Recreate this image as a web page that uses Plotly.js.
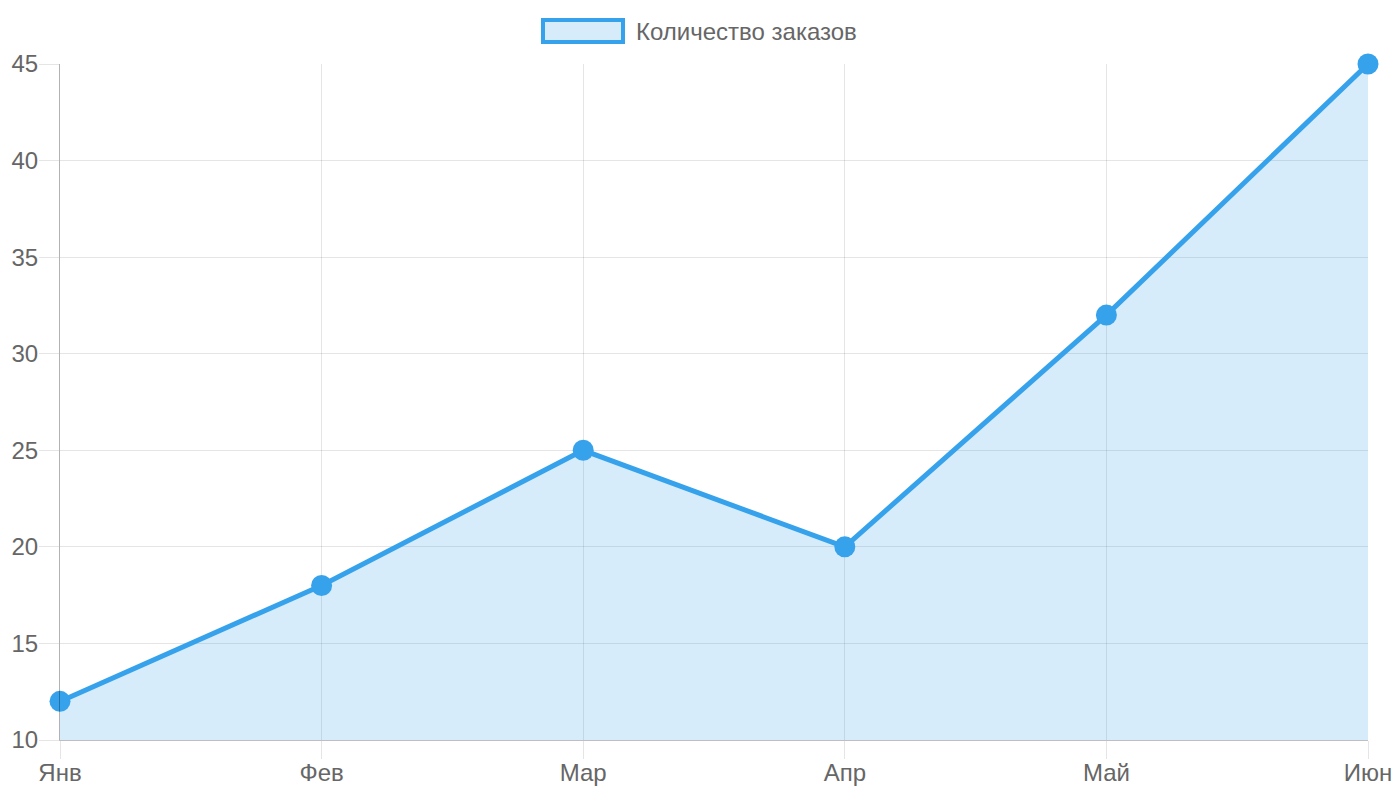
<!DOCTYPE html>
<html>
<head>
<meta charset="utf-8">
<script src="https://cdn.plot.ly/plotly-3.0.1.min.js"></script>
<style>html,body{margin:0;padding:0;background:#fff;}#chart{width:1400px;height:800px;}</style>
</head>
<body>
<div id="chart"></div>
<script>
const months = ["Янв", "Фев", "Мар", "Апр", "Май", "Июн"];
const orders = [12, 18, 25, 20, 32, 45];
const seriesName = "Количество заказов";
const yTicks = [10, 15, 20, 25, 30, 35, 40, 45];

const lineColor = "#36A2EB";
const fillColor = "rgba(54,162,235,0.2)";
const gridColor = "rgba(0,0,0,0.1)";
const fontFam = "'Liberation Sans', Arial, sans-serif";
const fs = 24;

const trace = {
  x: months,
  y: orders,
  type: "scatter",
  mode: "lines+markers",
  name: seriesName,
  fill: "tozeroy",
  fillcolor: fillColor,
  line: {color: lineColor, width: 5},
  marker: {color: lineColor, size: 21, line: {width: 0}},
  cliponaxis: false,
  showlegend: false
};

const L = 60, T = 64, W = 1308, H = 676;

const layout = {
  width: 1400, height: 800,
  margin: {l: L, r: 1400 - L - W, t: T, b: 800 - T - H},
  paper_bgcolor: "#fff", plot_bgcolor: "#fff",
  font: {family: fontFam, size: fs, color: "#666"},
  xaxis: {
    type: "category",
    range: [0, months.length - 1],
    showgrid: true, gridcolor: gridColor, gridwidth: 1,
    ticks: "outside", ticklen: 18, tickcolor: gridColor, tickwidth: 1,
    ticklabelstandoff: -7,
    showline: true, linecolor: "rgba(0,0,0,0.25)", linewidth: 1,
    zeroline: false,
    tickfont: {family: fontFam, size: fs, color: "#666"},
    fixedrange: true
  },
  yaxis: {
    range: [10, 45],
    tickvals: yTicks,
    showgrid: true, gridcolor: gridColor, gridwidth: 1,
    ticks: "outside", ticklen: 20, tickcolor: gridColor, tickwidth: 1,
    ticklabelstandoff: -4,
    showline: true, linecolor: "rgba(0,0,0,0.3)", linewidth: 1,
    zeroline: false,
    tickfont: {family: fontFam, size: fs, color: "#666"},
    fixedrange: true
  },
  shapes: [{
    type: "rect",
    xref: "paper", yref: "paper",
    xsizemode: "pixel", ysizemode: "pixel",
    xanchor: 0, yanchor: 1,
    x0: 483, x1: 563, y0: 22, y1: 44,
    line: {color: lineColor, width: 4},
    fillcolor: fillColor
  }],
  annotations: [{
    text: seriesName,
    xref: "paper", yref: "paper",
    x: (634 - L) / W, y: 1 + (T - 32) / H,
    xanchor: "left", yanchor: "middle",
    showarrow: false,
    font: {family: fontFam, size: fs, color: "#666"}
  }],
  showlegend: false
};

Plotly.newPlot("chart", [trace], layout, {displayModeBar: false, staticPlot: true});
</script>
</body>
</html>
